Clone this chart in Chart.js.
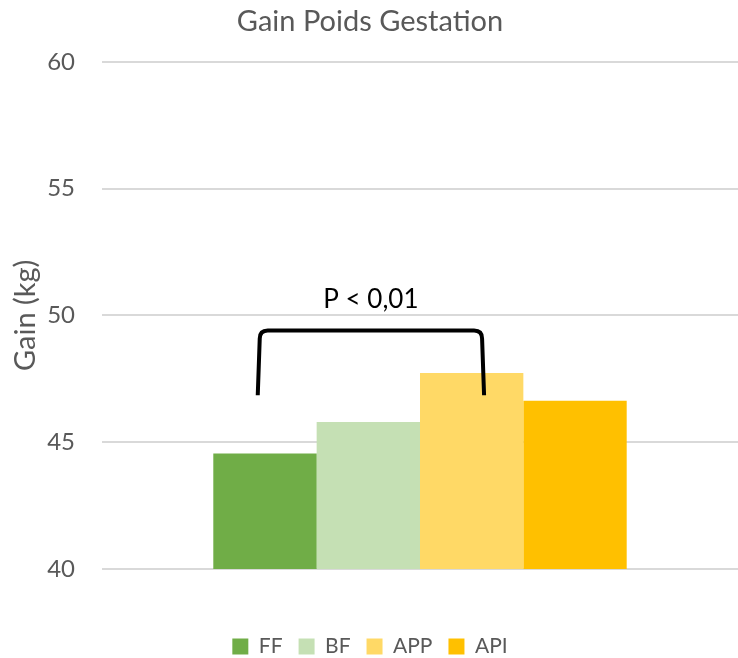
<!DOCTYPE html>
<html>
<head>
<meta charset="utf-8">
<script src="https://cdn.jsdelivr.net/npm/chart.js@4/dist/chart.umd.min.js"></script>
<style>
  html, body { margin: 0; padding: 0; background: #fff; }
  #wrap { width: 738px; height: 658px; }
</style>
</head>
<body>
<div id="wrap"><canvas id="gainChart" width="738" height="658"></canvas></div>
<script>
const groups = ["FF", "BF", "APP", "API"];
const gainKg = [44.55, 45.8, 47.73, 46.63];
const groupColors = ["#70ad47", "#c5e0b4", "#ffd966", "#ffc000"];
const yTicks = [40, 45, 50, 55, 60];
const pLabel = "P < 0,01";
// bracket between FF and APP, in kg
const bracketTop = 49.4;
const bracketBottom = 46.85;

const font = "Lato, 'Open Sans', sans-serif";
const grey = "#595959";

const bracketPlugin = {
    id: "bracket",
    afterDatasetsDraw(chart) {
        const ctx = chart.ctx;
        const y = chart.scales.y;
        const ff = chart.getDatasetMeta(0).data[0];
        const app = chart.getDatasetMeta(2).data[0];
        const left = ff.x - ff.width * 0.07;
        const right = app.x + app.width * 0.12;
        const top = y.getPixelForValue(bracketTop);
        const bottom = y.getPixelForValue(bracketBottom);
        const r = 8;
        ctx.save();
        ctx.strokeStyle = "#000";
        ctx.lineWidth = 4;
        ctx.beginPath();
        ctx.moveTo(left, bottom);
        ctx.lineTo(left + 2, top + r);
        ctx.quadraticCurveTo(left + 2, top, left + 2 + r, top);
        ctx.lineTo(right - 2 - r, top);
        ctx.quadraticCurveTo(right - 2, top, right - 2, top + r);
        ctx.lineTo(right, bottom);
        ctx.stroke();
        ctx.fillStyle = "#000";
        ctx.font = "26px " + font;
        ctx.textAlign = "center";
        ctx.textBaseline = "middle";
        ctx.fillText(pLabel, (left + right) / 2, top - 31);
        ctx.restore();
    },
};

new Chart(document.getElementById("gainChart"), {
    type: "bar",
    data: {
        labels: [""],
        datasets: groups.map((name, i) => ({
            label: name,
            data: [gainKg[i]],
            backgroundColor: groupColors[i],
            borderWidth: 0,
            barPercentage: 1,
            categoryPercentage: 0.65,
        })),
    },
    options: {
        responsive: false,
        animation: false,
        layout: { padding: { left: 2, right: 0, top: 0, bottom: -9 } },
        plugins: {
            title: {
                display: true,
                text: "Gain Poids Gestation",
                color: grey,
                font: { family: font, size: 29, weight: "normal" },
                padding: { top: 4, bottom: 23 },
            },
            legend: {
                position: "bottom",
                labels: {
                    color: grey,
                    font: { family: font, size: 21 },
                    boxWidth: 16,
                    boxHeight: 16,
                    padding: 16,
                },
            },
            tooltip: { enabled: false },
        },
        scales: {
            x: {
                grid: { display: false },
                border: { display: false },
                ticks: { display: false },
                afterFit: (axis) => { axis.height = 51; },
            },
            y: {
                min: 40,
                max: 60,
                afterBuildTicks: (axis) => {
                    axis.ticks = yTicks.map((v) => ({ value: v }));
                },
                afterFit: (axis) => { axis.width = 100; },
                grid: { color: "#d9d9d9", lineWidth: 2, drawTicks: false },
                border: { display: false },
                ticks: {
                    color: grey,
                    font: { family: font, size: 24 },
                    padding: 27,
                },
                title: {
                    display: true,
                    text: "Gain (kg)",
                    color: grey,
                    font: { family: font, size: 29 },
                    padding: { top: 6, bottom: 0 },
                },
            },
        },
    },
    plugins: [bracketPlugin],
});
</script>
</body>
</html>
